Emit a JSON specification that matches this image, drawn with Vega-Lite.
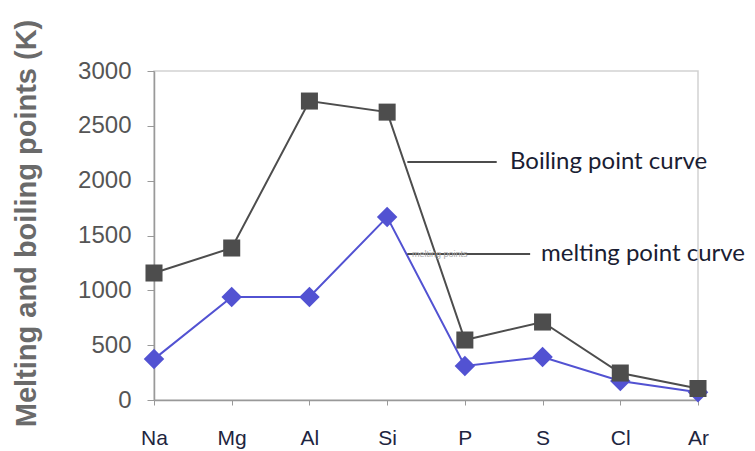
{
  "$schema": "https://vega.github.io/schema/vega-lite/v6.json",
  "width": 544,
  "height": 329,
  "autosize": "none",
  "padding": {"left": 154, "top": 71, "right": 57, "bottom": 51},
  "background": "white",
  "config": {"view": {"stroke": "#d2d2d2", "strokeWidth": 1.5}, "font": "Liberation Sans"},
  "datasets": {
    "points": [
      {"element": "Na", "type": "melting", "value": 373},
      {"element": "Mg", "type": "melting", "value": 939},
      {"element": "Al", "type": "melting", "value": 939},
      {"element": "Si", "type": "melting", "value": 1668},
      {"element": "P", "type": "melting", "value": 310},
      {"element": "S", "type": "melting", "value": 392},
      {"element": "Cl", "type": "melting", "value": 173},
      {"element": "Ar", "type": "melting", "value": 70},
      {"element": "Na", "type": "boiling", "value": 1158},
      {"element": "Mg", "type": "boiling", "value": 1386},
      {"element": "Al", "type": "boiling", "value": 2726},
      {"element": "Si", "type": "boiling", "value": 2625},
      {"element": "P", "type": "boiling", "value": 547},
      {"element": "S", "type": "boiling", "value": 711},
      {"element": "Cl", "type": "boiling", "value": 246},
      {"element": "Ar", "type": "boiling", "value": 105}
    ],
    "notes": [
      {"label": "Boiling point curve", "x0": 3.26, "x1": 4.41, "xt": 4.58, "value": 2170},
      {"label": "melting point curve", "x0": 3.26, "x1": 4.84, "xt": 4.98, "value": 1331}
    ],
    "ghost": [
      {"label": "melting points", "xt": 3.32, "value": 1331}
    ]
  },
  "layer": [
    {
      "data": {"name": "points"},
      "encoding": {
        "x": {
          "field": "element",
          "type": "ordinal",
          "sort": ["Na", "Mg", "Al", "Si", "P", "S", "Cl", "Ar"],
          "scale": {"type": "point", "padding": 0},
          "axis": {
            "title": null,
            "labelAngle": 0,
            "labelFontSize": 21,
            "labelColor": "#1e2540",
            "labelPadding": 22,
            "tickSize": 5,
            "tickColor": "#999",
            "domainColor": "#999",
            "domainWidth": 1.5,
            "grid": false
          }
        },
        "y": {
          "field": "value",
          "type": "quantitative",
          "scale": {"domain": [0, 3000], "nice": false},
          "axis": {
            "title": "Melting and boiling points (K)",
            "values": [0, 500, 1000, 1500, 2000, 2500, 3000],
            "format": "d",
            "labelFontSize": 24,
            "labelColor": "#555",
            "labelPadding": 16,
            "tickSize": 7,
            "tickColor": "#999",
            "domainColor": "#999",
            "domainWidth": 1.5,
            "grid": false,
            "titleFontSize": 29,
            "titleFontWeight": "bold",
            "titleColor": "#6a6a6a",
            "titleAngle": 270,
            "titleX": -128,
            "titleY": 152,
            "titleAlign": "center",
            "titleBaseline": "middle"
          }
        },
        "color": {
          "field": "type",
          "type": "nominal",
          "scale": {"domain": ["melting", "boiling"], "range": ["#5252d2", "#4d4d4d"]},
          "legend": null
        }
      },
      "layer": [
        {"mark": {"type": "line", "strokeWidth": 2}},
        {
          "mark": {"type": "point", "filled": true, "opacity": 1},
          "encoding": {
            "shape": {
              "field": "type",
              "type": "nominal",
              "scale": {"domain": ["melting", "boiling"], "range": ["diamond", "square"]},
              "legend": null
            },
            "size": {
              "field": "type",
              "type": "nominal",
              "scale": {"domain": ["melting", "boiling"], "range": [420, 290]},
              "legend": null
            }
          }
        }
      ]
    },
    {
      "data": {"name": "notes"},
      "layer": [
        {
          "mark": {"type": "rule", "color": "#111", "strokeWidth": 1.5},
          "encoding": {
            "x": {"field": "x0", "type": "quantitative", "scale": {"domain": [0, 7]}, "axis": null},
            "x2": {"field": "x1"},
            "y": {"field": "value", "type": "quantitative"}
          }
        },
        {
          "mark": {"type": "text", "align": "left", "baseline": "middle", "font": "Lato", "fontSize": 24, "color": "#1a1d33"},
          "encoding": {
            "x": {"field": "xt", "type": "quantitative", "scale": {"domain": [0, 7]}, "axis": null},
            "y": {"field": "value", "type": "quantitative"},
            "text": {"field": "label"}
          }
        }
      ]
    },
    {
      "data": {"name": "ghost"},
      "mark": {"type": "text", "align": "left", "baseline": "middle", "fontSize": 9, "color": "#aaa"},
      "encoding": {
        "x": {"field": "xt", "type": "quantitative", "scale": {"domain": [0, 7]}, "axis": null},
        "y": {"field": "value", "type": "quantitative"},
        "text": {"field": "label"}
      }
    }
  ],
  "resolve": {"scale": {"x": "independent"}}
}
